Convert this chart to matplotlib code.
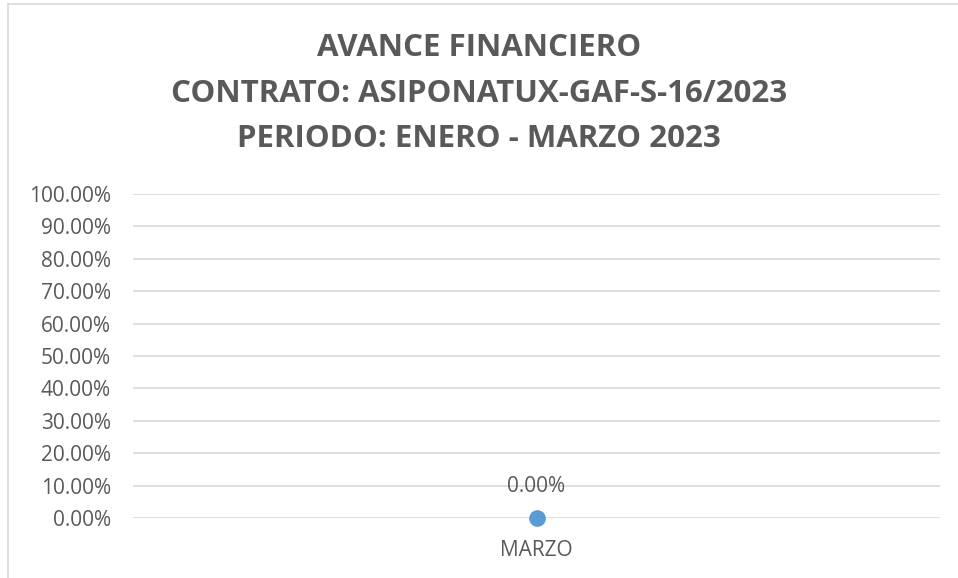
import matplotlib
matplotlib.use("Agg")
import matplotlib.pyplot as plt
from matplotlib.lines import Line2D
from matplotlib.ticker import FuncFormatter

# Chart data
meses = ["MARZO"]
avance = [0.0]
title_lines = ["AVANCE FINANCIERO",
               "CONTRATO: ASIPONATUX-GAF-S-16/2023",
               "PERIODO: ENERO - MARZO 2023"]

gray = "#595959"
grid = "#D9D9D9"
blue = "#5B9BD5"

plt.rcParams["font.family"] = ["Open Sans", "DejaVu Sans"]

W, H = 958, 578
fig = plt.figure(figsize=(W / 100, H / 100), dpi=100)

# chart area border (left and top visible)
fig.add_artist(Line2D([8 / W, 8 / W], [0, 1 - 4 / H], color=grid, lw=1.2))
fig.add_artist(Line2D([8 / W, 1], [1 - 4 / H, 1 - 4 / H], color=grid, lw=1.2))

# title, three lines
for text, yc in zip(title_lines, [48, 94, 139]):
    fig.text(0.5, 1 - yc / H, text, ha="center", va="center",
             fontsize=22.5, fontweight="bold", color=gray)

left, right = 133 / W, 940 / W
bottom, top = (H - 518) / H, (H - 194) / H
ax = fig.add_axes([left, bottom, right - left, top - bottom])

x = list(range(len(meses)))
ax.plot(x, avance, marker="o", markersize=11, color=blue, linestyle="none",
        zorder=3, clip_on=False)
for xi, v in zip(x, avance):
    ax.annotate(f"{v:.2%}", (xi, v), xytext=(0, 23), textcoords="offset points",
                ha="center", va="center", fontsize=15, color=gray)

ax.set_xlim(-0.5, len(meses) - 0.5)
ax.set_ylim(0, 1)
ax.set_yticks([i / 10 for i in range(11)])
ax.yaxis.set_major_formatter(FuncFormatter(lambda v, _: f"{v:.2%}"))
ax.set_xticks(x)
ax.set_xticklabels(meses)

ax.grid(axis="y", color=grid, linewidth=1.2)
ax.set_axisbelow(True)
for s in ax.spines.values():
    s.set_visible(False)
ax.tick_params(axis="both", length=0, colors=gray, labelsize=15)
ax.tick_params(axis="y", pad=16)
ax.tick_params(axis="x", pad=16)
ax.patch.set_alpha(0)

fig.savefig("out.png", dpi=100)
